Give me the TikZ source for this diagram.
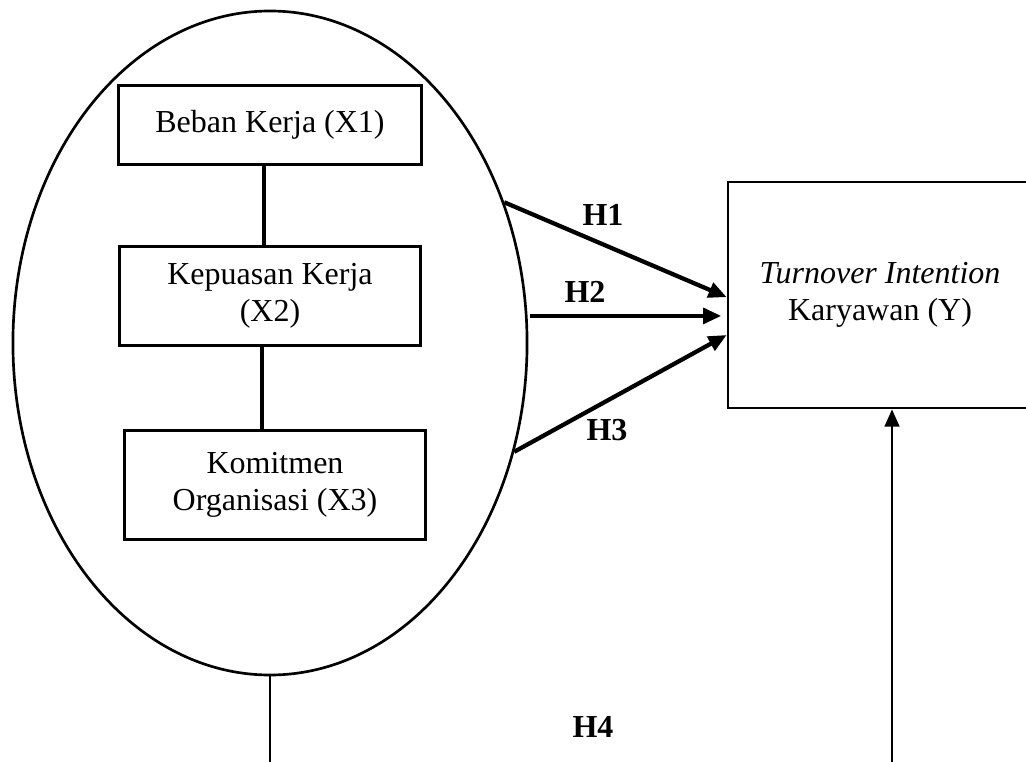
\documentclass[tikz,border=0pt]{standalone}
\usepackage{fontspec}
\setmainfont{Liberation Serif}
\usetikzlibrary{shapes.geometric, arrows.meta}

\tikzset{
  varbox/.style={draw, line width=1pt, align=center, inner sep=0pt,
    font=\fontsize{12}{14}\selectfont},
  hyplabel/.style={font=\fontsize{12}{14}\selectfont\bfseries},
  hyparrow/.style={line width=1.6pt, -{Triangle[length=6.8pt,width=5.8pt]}},
  linkline/.style={line width=1.4pt}
}

\begin{document}
\begin{tikzpicture}[x=0.375pt, y=-0.375pt]
  \useasboundingbox (0,0) rectangle (1026,762);

  % independent variables inside the ellipse
  \node[ellipse, draw, line width=1pt, minimum width=192.8pt, minimum height=249pt, inner sep=0pt] (grp) at (270,343) {};
  \node[varbox, minimum width=113.6pt, minimum height=29.6pt] (x1) at (270,125) {Beban Kerja (X1)};
  \node[varbox, minimum width=113pt, minimum height=37pt] (x2) at (270,296) {Kepuasan Kerja\\(X2)};
  \node[varbox, minimum width=113pt, minimum height=41pt] (x3) at (275,485) {Komitmen\\Organisasi (X3)};

  % dependent variable
  \node[varbox, minimum width=114pt, minimum height=84.75pt] (tint) at (880,295) {\textit{Turnover Intention}\\Karyawan (Y)};

  \draw[linkline] ([xshift=-2.2pt]x1.south) -- ([xshift=-2.2pt]x1.south |- x2.north);
  \draw[linkline] ([xshift=-3pt]x2.south) -- ([xshift=-3pt]x2.south |- x3.north);

  % hypotheses H1 - H3
  \draw[hyparrow] (grp.31) -- ([yshift=-0.8pt]tint.west);
  \draw[hyparrow, shorten <=1pt, shorten >=2pt] (grp.6) -- (grp.6 -| tint.west);
  \draw[hyparrow] (grp.-24) -- ([yshift=-15pt]tint.west);

  \node[hyplabel] (h1) at (603,215) {H1};
  \node[hyplabel] (h2) at (585,292) {H2};
  \node[hyplabel] (h3) at (607,430) {H3};

  % hypothesis H4
  \coordinate (lowL) at (270,790);
  \coordinate (lowR) at (892,790);
  \draw[line width=0.9pt] (grp.south) -- (lowL);
  \draw[line width=1pt, -{Triangle[length=6.5pt,width=5.5pt]}] (lowR) -- (lowR |- tint.south);
  \node[hyplabel] (h4) at (593,727) {H4};
\end{tikzpicture}
\end{document}
